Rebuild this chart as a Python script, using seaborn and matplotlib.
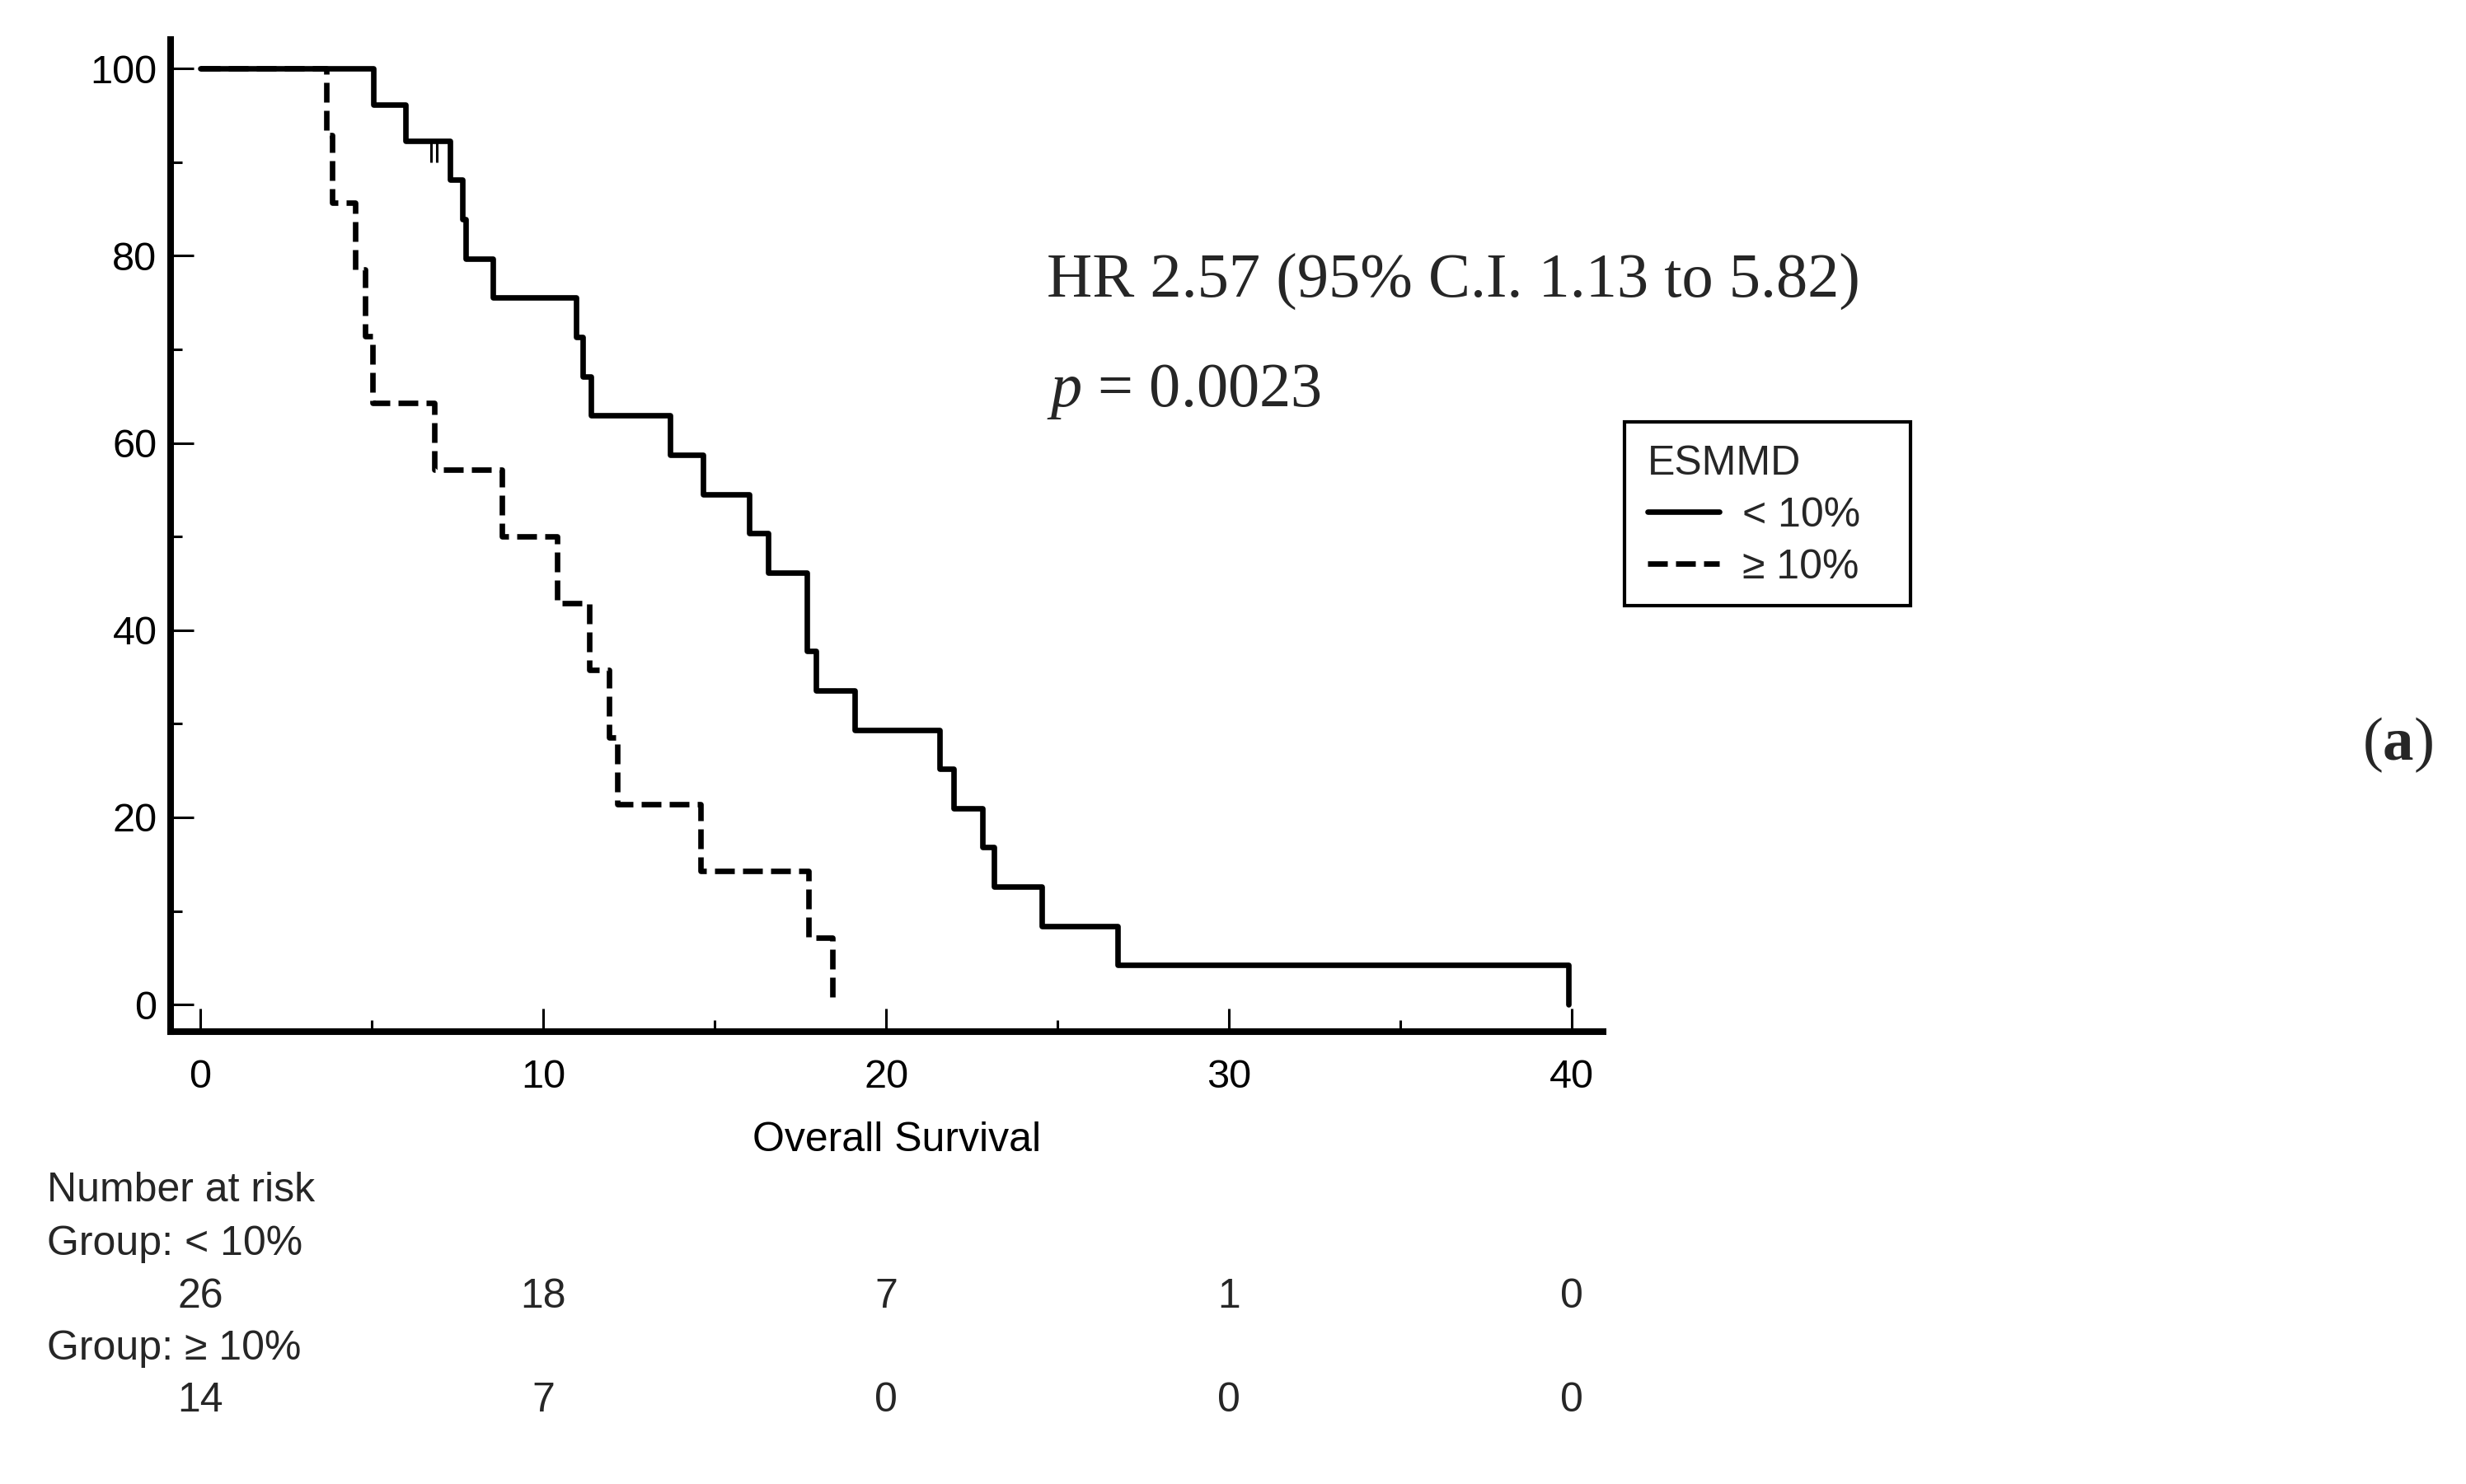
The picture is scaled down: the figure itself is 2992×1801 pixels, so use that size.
import matplotlib
matplotlib.use("Agg")
import matplotlib.pyplot as plt
import matplotlib.transforms as mtransforms
from matplotlib.lines import Line2D
from matplotlib.patches import Rectangle
from matplotlib.ticker import MultipleLocator
import pandas as pd
import seaborn as sns

# event times (overall survival)
group_labels = ["< 10%", "≥ 10%"]
deaths_low = [5.05, 5.99, 7.27, 7.64, 7.74, 8.54, 10.95, 11.15, 11.4, 13.7,
              14.67, 16.0, 16.55, 17.7, 17.7, 17.96, 19.09, 21.56, 21.97,
              22.8, 23.15, 24.55, 26.75, 39.9]
censored_low = [6.74, 6.90]
deaths_high = [3.68, 3.85, 4.51, 4.81, 5.02, 6.82, 8.80, 10.4, 11.35, 11.93,
               12.16, 14.58, 17.74, 18.44]
censored_high = []

# number at risk table
risk_times = [0, 10, 20, 30, 40]
risk_low = [26, 18, 7, 1, 0]
risk_high = [14, 7, 0, 0, 0]

hr_text = "HR 2.57 (95% C.I. 1.13 to 5.82)"
p_value = "0.0023"


def km_steps(deaths, censored):
    # product-limit estimate, in percent
    all_times = deaths + censored
    times, surv = [0.0], [100.0]
    s = 100.0
    for t in sorted(set(deaths)):
        n = sum(1 for x in all_times if x >= t)
        d = deaths.count(t)
        s *= 1 - d / n
        times.append(t)
        surv.append(s)
    return times, surv


def surv_at(times, surv, t):
    val = surv[0]
    for ti, si in zip(times, surv):
        if ti <= t:
            val = si
    return val


rows = []
censor_pts = []
for label, deaths, cens in [(group_labels[0], deaths_low, censored_low),
                            (group_labels[1], deaths_high, censored_high)]:
    t, s = km_steps(deaths, cens)
    for ti, si in zip(t, s):
        rows.append({"time": ti, "surv": si, "group": label})
    for c in cens:
        censor_pts.append((c, surv_at(t, s, c)))
df = pd.DataFrame(rows)

sns.set_theme(style="ticks")
plt.rcParams["font.family"] = ["Liberation Sans", "DejaVu Sans"]
plt.rcParams["mathtext.fontset"] = "custom"
plt.rcParams["mathtext.rm"] = "Liberation Serif"
plt.rcParams["mathtext.it"] = "Liberation Serif:italic"
plt.rcParams["mathtext.bf"] = "Liberation Serif:bold"

fig = plt.figure(figsize=(14.96, 9.005), dpi=200)
ax = fig.add_axes([0.0692, 0.3048, 0.5809, 0.6685])

sns.lineplot(
    data=df, x="time", y="surv", hue="group", style="group",
    palette={group_labels[0]: "black", group_labels[1]: "black"},
    dashes={group_labels[0]: "", group_labels[1]: (3.6, 1.5)},
    drawstyle="steps-post", estimator=None, linewidth=2.4,
    legend=False, ax=ax,
)

# censored marks
cx = [c[0] for c in censor_pts]
cy = [c[1] for c in censor_pts]
ax.vlines(cx, [y - 2.3 for y in cy], cy, color="black", linewidth=1.1)

sns.despine(ax=ax)
for side in ["left", "bottom"]:
    ax.spines[side].set_linewidth(2.9)
    ax.spines[side].set_color("black")

ax.set_xlim(-0.865, 40.91)
ax.set_ylim(-2.9, 103.1)
ax.set_xticks(risk_times)
ax.set_yticks([0, 20, 40, 60, 80, 100])
ax.xaxis.set_minor_locator(MultipleLocator(5))
ax.yaxis.set_minor_locator(MultipleLocator(10))
ax.tick_params(which="major", direction="in", length=10, width=1.1,
               colors="black", labelsize=17.5)
ax.tick_params(which="minor", direction="in", length=5, width=1.1,
               colors="black")
ax.tick_params(axis="x", which="major", pad=12)
ax.tick_params(axis="y", which="major", pad=6)

ax.set_ylabel("")
ax.set_xlabel("Overall Survival", fontsize=18, va="baseline", color="black")
ax.xaxis.set_label_coords(0.507, -0.1204)

handles = [
    Line2D([], [], color="black", linewidth=2.4, label=group_labels[0]),
    Line2D([], [], color="black", linewidth=2.4, dashes=(3.6, 1.5),
           label=group_labels[1]),
]
leg = ax.legend(
    handles=handles, title="ESMMD", loc="upper left",
    bbox_to_anchor=(0.6614, 0.7113), bbox_transform=fig.transFigure,
    frameon=False, fontsize=18, title_fontsize=18, alignment="left",
    handlelength=1.75, handletextpad=0.55, borderpad=0.4,
    labelspacing=0.34, borderaxespad=0,
)
# legend box is wider than its content on the right
fig.patches.append(Rectangle((0.6588, 0.5919), 0.1160, 0.1238,
                             transform=fig.transFigure, fill=False,
                             edgecolor="black", linewidth=1.5))

serif = ["Liberation Serif", "DejaVu Serif"]
fig.text(0.4245, 0.800, hr_text, family=serif, fontsize=27.5, va="baseline")
fig.text(0.4245, 0.7263, r"$p$ = " + p_value, family=serif, fontsize=27.5,
         va="baseline")
fig.text(0.958, 0.488, r"($\mathbf{a}$)", family=serif, fontsize=27,
         va="baseline")

# number at risk table
trans = mtransforms.blended_transform_factory(ax.transData, fig.transFigure)
fig.text(0.0191, 0.1904, "Number at risk", fontsize=18, va="baseline")
fig.text(0.0191, 0.1544, "Group: " + group_labels[0], fontsize=18, va="baseline")
fig.text(0.0191, 0.0838, "Group: " + group_labels[1], fontsize=18, va="baseline")
for x, n_low, n_high in zip(risk_times, risk_low, risk_high):
    ax.text(x, 0.1188, str(n_low), transform=trans, ha="center",
            va="baseline", fontsize=18)
    ax.text(x, 0.0488, str(n_high), transform=trans, ha="center",
            va="baseline", fontsize=18)

fig.savefig("out.png", dpi=200)
